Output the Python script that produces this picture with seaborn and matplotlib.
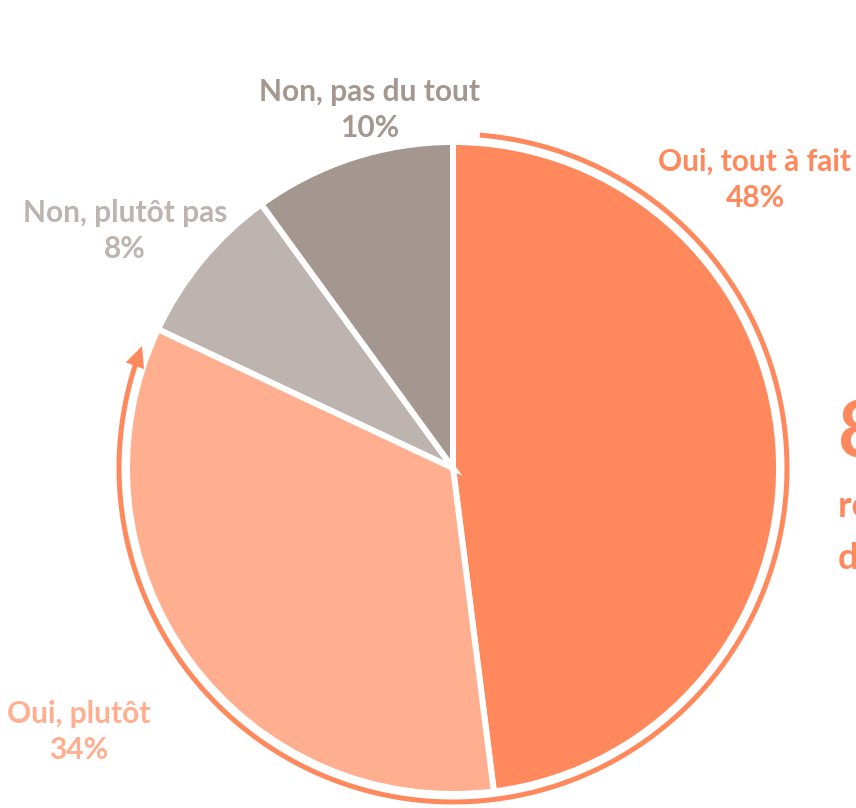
import numpy as np
import matplotlib
matplotlib.use("Agg")
import matplotlib.pyplot as plt
import seaborn as sns

# ---- data ----
categories = ["Oui, tout à fait", "Oui, plutôt", "Non, plutôt pas", "Non, pas du tout"]
values = [48, 34, 8, 10]
pct_labels = ["48%", "34%", "8%", "10%"]
slice_colors = ["#FF895D", "#FFAF8F", "#BEB4AF", "#A4978F"]
label_colors = ["#FF895D", "#FFAF8F", "#BEB4AF", "#A4978F"]
highlight_value = "82%"
highlight_lines = ["répondent oui", "de manière positive"]

sns.set_theme(style="white")
plt.rcParams["font.family"] = ["Lato", "DejaVu Sans"]

W, H = 856, 808
fig = plt.figure(figsize=(W / 100, H / 100), dpi=100)
ax = fig.add_axes([0, 0, 1, 1])

def Y(y):
    return H - y

cx, cy, R = 453, 468, 326
palette = sns.color_palette(slice_colors)
ax.pie(values, startangle=90, counterclock=False, colors=palette,
       radius=R, center=(cx, Y(cy)), explode=[0.022, 0.01, 0, 0],
       wedgeprops=dict(edgecolor="white", linewidth=4.3))

# arc with arrow around the "Oui" share
orange = "#FF895D"
Ra = 334
a0, a_tip = 85.4, 158.6 - 360
a_base = a_tip + 2.4
th = np.radians(np.linspace(a0, a_base, 300))
ax.plot(cx + Ra * np.cos(th), Y(cy) + Ra * np.sin(th), color=orange, lw=3.6,
        solid_capstyle="butt")
tb, tt = np.radians(a_base + 0.3), np.radians(a_tip)
ax.annotate("", xy=(cx + Ra * np.cos(tt), Y(cy) + Ra * np.sin(tt)),
            xytext=(cx + Ra * np.cos(tb), Y(cy) + Ra * np.sin(tb)),
            arrowprops=dict(arrowstyle="-|>,head_length=0.75,head_width=0.35",
                            color=orange, lw=0, mutation_scale=20, shrinkA=0, shrinkB=0))

# labels
label_pos = [(755, 162), (79, 714), (125, 213), (370, 92)]
fs = 21.5
for cat, pct, col, (x, y) in zip(categories, pct_labels, label_colors, label_pos):
    ax.text(x, Y(y), cat, color=col, fontsize=fs, fontweight="bold",
            ha="center", va="center")
    ax.text(x, Y(y + 36), pct, color=col, fontsize=fs, fontweight="bold",
            ha="center", va="center")

# highlight text (cut by the right edge, as in the reference)
ax.text(838, Y(458), highlight_value, color=orange, fontsize=56, fontweight="bold",
        ha="left", va="baseline")
ax.text(838, Y(517), highlight_lines[0], color=orange, fontsize=26, fontweight="bold",
        ha="left", va="baseline")
ax.text(838, Y(569), highlight_lines[1], color=orange, fontsize=26, fontweight="bold",
        ha="left", va="baseline")

ax.set_xlim(0, W)
ax.set_ylim(0, H)
ax.set_aspect("equal")
ax.axis("off")
fig.savefig("out.png", dpi=100)
